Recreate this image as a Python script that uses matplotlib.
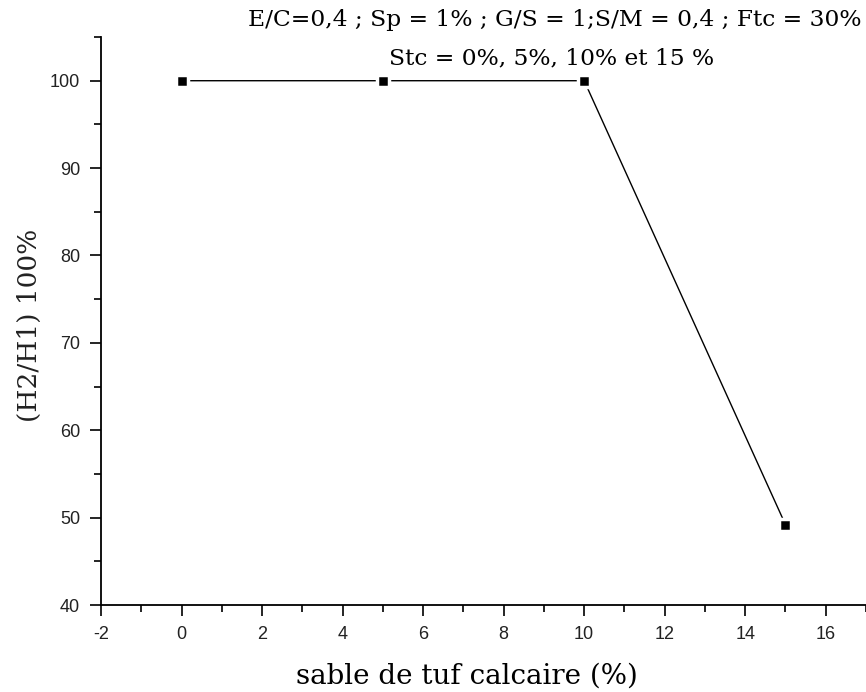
import matplotlib
matplotlib.use("Agg")
import matplotlib.pyplot as plt
from matplotlib.ticker import MultipleLocator

plt.rcParams["axes.unicode_minus"] = False

# data
stc = [0, 5, 10, 15]
ratio = [100, 100, 100, 49.2]

x_ticks = [-2, 0, 2, 4, 6, 8, 10, 12, 14, 16]
y_ticks = [40, 50, 60, 70, 80, 90, 100]

title_1 = "E/C=0,4 ; Sp = 1% ; G/S = 1;S/M = 0,4 ; Ftc = 30%"
title_2 = "Stc = 0%, 5%, 10% et 15 %"

fig = plt.figure(figsize=(8.66, 6.92), dpi=100)
ax = fig.add_axes([0.1166, 0.1257, 0.8834, 0.8208])

# line with small white gaps around the square markers
ax.plot(stc, ratio, color="black", linewidth=1.0, marker="s", markersize=9,
        markerfacecolor="black", markeredgecolor="white", markeredgewidth=2.5,
        clip_on=False)

ax.set_xlim(-2, 17)
ax.set_ylim(40, 105)
ax.set_xticks(x_ticks)
ax.set_yticks(y_ticks)
ax.xaxis.set_minor_locator(MultipleLocator(1))
ax.yaxis.set_minor_locator(MultipleLocator(5))

ax.spines["top"].set_visible(False)
ax.spines["right"].set_visible(False)
ax.spines["left"].set_linewidth(1.3)
ax.spines["bottom"].set_linewidth(1.3)

ax.tick_params(which="major", direction="out", length=8, width=1.2,
               labelsize=13, labelcolor="#222222", pad=7)
ax.tick_params(which="minor", direction="out", length=5, width=1.2)
for lab in ax.get_xticklabels() + ax.get_yticklabels():
    lab.set_family("Liberation Sans")

ax.set_xlabel("sable de tuf calcaire (%)", family="DejaVu Serif",
              fontsize=20, labelpad=14)
ax.xaxis.label.set_x(0.478)
ax.set_ylabel("(H2/H1) 100%", family="DejaVu Serif", fontsize=19,
              color="#222222", labelpad=6)
ax.yaxis.label.set_y(0.493)

fig.text(0.641, 0.971, title_1, family="DejaVu Serif", fontsize=16.8,
         ha="center", va="center")
fig.text(0.637, 0.916, title_2, family="DejaVu Serif", fontsize=16.8,
         ha="center", va="center")

fig.savefig("out.png", dpi=100)
